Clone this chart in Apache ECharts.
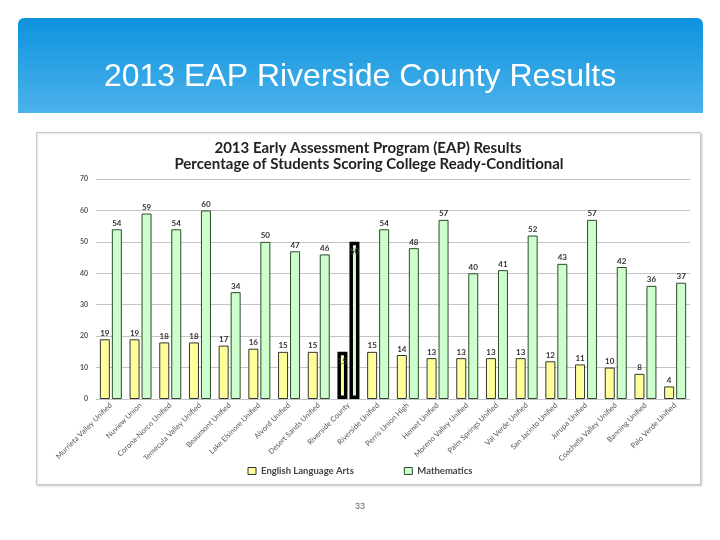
<!DOCTYPE html>
<html>
<head>
<meta charset="utf-8">
<script src="https://cdn.jsdelivr.net/npm/echarts@6/dist/echarts.min.js"></script>
<style>
html,body{margin:0;padding:0;background:#fff;}
#c{width:720px;height:540px;}
</style>
</head>
<body>
<div id="c"></div>
<script>
const slideTitle = '2013 EAP Riverside County Results';
const chartTitle1 = '2013 Early Assessment Program (EAP) Results';
const chartTitle2 = 'Percentage of Students Scoring College Ready-Conditional';
const pageNumber = '33';
const categories = ['Murrieta Valley Unified','Nuview Union','Corona-Norco Unified','Temecula Valley Unified','Beaumont Unified','Lake Elsinore Unified','Alvord Unified','Desert Sands Unified','Riverside County','Riverside Unified','Perris Union High','Hemet Unified','Moreno Valley Unified','Palm Springs Unified','Val Verde Unified','San Jacinto Unified','Jurupa Unified','Coachella Valley Unified','Banning Unified','Palo Verde Unified'];
const elaValues = [19,19,18,18,17,16,15,15,15,15,14,13,13,13,13,12,11,10,8,4];
const mathValues = [54,59,54,60,34,50,47,46,50,54,48,57,40,41,52,43,57,42,36,37];
const highlightCategory = 'Riverside County';

function buildData(values){
  return values.map((v,i)=>{
    if(categories[i]===highlightCategory){
      return {value:v, itemStyle:{borderColor:'#000',borderWidth:3.5}, label:{position:'insideTop',distance:6}};
    }
    return v;
  });
}

const chart = echarts.init(document.getElementById('c'));
const labelStyle = {show:true, position:'top', distance:2, fontSize:8, fontWeight:'bold', color:'#333', fontFamily:'Lato'};
chart.setOption({
  animation:false,
  backgroundColor:'#fff',
  graphic:[
    {type:'rect', shape:{x:18,y:18,width:685,height:95,r:[6,6,0,0]}, style:{fill:new echarts.graphic.LinearGradient(0,0,0,1,[{offset:0,color:'#0d93dd'},{offset:1,color:'#4cb2eb'}])}, z:-10},
    {type:'text', x:360, y:77, style:{text:slideTitle, fill:'#fff', font:'32px "Liberation Sans", Arial, sans-serif', textAlign:'center', textVerticalAlign:'middle'}, z:-5},
    {type:'rect', shape:{x:36.5,y:132.5,width:664,height:352}, style:{fill:'#fff', stroke:'#c8c8c8', lineWidth:1, shadowColor:'rgba(0,0,0,0.15)', shadowBlur:2, shadowOffsetX:1, shadowOffsetY:1}, z:-10},
    {type:'text', x:368, y:148, style:{text:chartTitle1, fill:'#222', font:'bold 15px Lato', textAlign:'center', textVerticalAlign:'middle'}},
    {type:'text', x:369, y:164, style:{text:chartTitle2, fill:'#222', font:'bold 15px Lato', textAlign:'center', textVerticalAlign:'middle'}},
    {type:'text', x:360, y:507, style:{text:pageNumber, fill:'#666', font:'9px "Liberation Sans", Arial', textAlign:'center', textVerticalAlign:'middle'}}
  ],
  legend:{
    bottom:59, left:'center', icon:'rect', itemWidth:8, itemHeight:7, itemGap:50,
    textStyle:{fontSize:9.5, fontWeight:'bold', color:'#444', fontFamily:'Lato'},
    data:[
      {name:'English Language Arts', itemStyle:{color:'#ffff99', borderColor:'#333', borderWidth:1}},
      {name:'Mathematics', itemStyle:{color:'#ccffcc', borderColor:'#2e4a2e', borderWidth:1}}
    ]
  },
  grid:{left:96, right:30, top:179, bottom:141},
  xAxis:{
    type:'category', data:categories,
    axisLine:{show:false}, axisTick:{show:false},
    axisLabel:{rotate:45, interval:0, fontSize:7.5, color:'#555', fontFamily:'Lato', margin:5}
  },
  yAxis:{
    type:'value', min:0, max:70, interval:10,
    axisLine:{show:false}, axisTick:{show:false},
    axisLabel:{fontSize:7, fontWeight:'bold', color:'#555', fontFamily:'Lato', margin:8},
    splitLine:{lineStyle:{color:'#c4c4c4', width:1}}
  },
  series:[
    {name:'English Language Arts', type:'bar', data:buildData(elaValues), barWidth:10, barGap:'20%',
     itemStyle:{color:'#ffff99', borderColor:'#333', borderWidth:1}, label:labelStyle},
    {name:'Mathematics', type:'bar', data:buildData(mathValues), barWidth:10, barGap:'20%',
     itemStyle:{color:'#ccffcc', borderColor:'#2e4a2e', borderWidth:1}, label:labelStyle}
  ]
});
</script>
</body>
</html>
